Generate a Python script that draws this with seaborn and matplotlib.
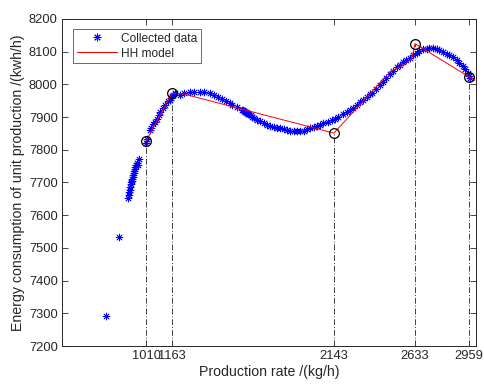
import matplotlib
matplotlib.use("Agg")
import matplotlib.pyplot as plt
import seaborn as sns
import pandas as pd
from matplotlib.lines import Line2D

# Collected data
data_x = [766, 844,
          899, 903, 906, 909, 912, 915, 918, 921, 924, 927, 930, 933, 936, 940, 944, 948, 952, 959, 965,
          1005, 1012, 1030, 1040, 1050, 1060, 1072, 1085, 1095, 1110, 1120, 1140, 1150, 1158, 1165, 1172, 1180,
          1213, 1240, 1273, 1300, 1333, 1360, 1394, 1420, 1440, 1466, 1490, 1514, 1530, 1560, 1587,
          1595, 1600, 1605, 1610, 1615, 1620, 1625, 1630, 1640, 1650, 1660, 1678, 1696, 1720, 1740, 1756,
          1780, 1800, 1816, 1840, 1860, 1877, 1900, 1920, 1937, 1960, 1980, 1998, 2020, 2040, 2058, 2080,
          2106, 2130, 2149, 2170, 2197, 2220, 2240, 2257, 2280, 2300, 2318, 2340, 2360, 2372, 2400, 2420,
          2438, 2460, 2480, 2500, 2523, 2540, 2560, 2580, 2601, 2620, 2644, 2660, 2680, 2704, 2720, 2740,
          2764, 2780, 2800, 2825, 2840, 2860, 2885, 2900, 2921, 2935, 2952, 2960, 2964]
data_y = [7292, 7533,
          7653, 7662, 7670, 7678, 7686, 7694, 7700, 7706, 7712, 7718, 7724, 7730, 7736, 7742, 7748, 7753, 7760, 7753, 7771,
          7822, 7832, 7860, 7868, 7878, 7885, 7895, 7905, 7915, 7928, 7936, 7948, 7952, 7958, 7963, 7968, 7973,
          7968, 7973, 7977, 7978, 7977, 7976, 7974, 7968, 7962, 7955, 7948, 7943, 7937, 7930, 7922,
          7920, 7918, 7916, 7915, 7913, 7911, 7910, 7908, 7905, 7901, 7898, 7891, 7887, 7881, 7877, 7874,
          7870, 7867, 7865, 7862, 7860, 7858, 7857, 7856, 7856, 7858, 7862, 7866, 7870, 7874, 7877, 7881,
          7886, 7891, 7895, 7901, 7909, 7916, 7922, 7928, 7937, 7945, 7952, 7961, 7969, 7974, 7987, 7998,
          8008, 8020, 8030, 8042, 8053, 8060, 8068, 8075, 8081, 8090, 8097, 8103, 8107, 8109, 8110, 8110,
          8108, 8104, 8100, 8094, 8090, 8083, 8075, 8066, 8055, 8046, 8035, 8025, 8020]

# HH model piecewise line
model_x = [1010, 1163, 1231, 2143, 2481, 2583, 2613, 2633, 2959, 2995]
model_y = [7828, 7972, 7971, 7851, 8038, 8065, 8078, 8124, 8023, 8012]

# Breakpoints (circles + vertical dash-dot lines)
break_x = [1010, 1163, 2143, 2633, 2959]
break_y = [7828, 7972, 7851, 8124, 8023]

x_ticks = [1010, 1163, 2143, 2633, 2959]
y_ticks = [7200, 7300, 7400, 7500, 7600, 7700, 7800, 7900, 8000, 8100, 8200]

sns.set_style("white")
plt.rcParams['font.family'] = ['Liberation Sans', 'DejaVu Sans']

fig = plt.figure(figsize=(4.84, 3.85), dpi=100)
ax = fig.add_axes([0.128, 0.101, 0.855, 0.850])

df = pd.DataFrame({"x": data_x, "y": data_y})
dm = pd.DataFrame({"x": model_x, "y": model_y})

ast = (8, 2, 0)
sns.scatterplot(data=df, x="x", y="y", ax=ax, marker=ast, s=24, color="#0000ff",
                linewidth=0.6, edgecolor="#0000ff", zorder=3, legend=False)
sns.lineplot(data=dm, x="x", y="y", ax=ax, sort=False, color="#ff0000", linewidth=0.7,
             zorder=4, legend=False)

ax.vlines(break_x, 7200, break_y, colors="#404040", linestyles=(0, (6, 2, 1, 2)), linewidth=0.7, zorder=2)
ax.plot(break_x, break_y, linestyle="none", marker="o", markersize=7, markerfacecolor="none",
        markeredgecolor="black", markeredgewidth=0.9, zorder=5)

ax.set_xlim(500, 3000)
ax.set_ylim(7200, 8200)
ax.set_xticks(x_ticks)
ax.set_xticklabels([str(v) for v in x_ticks])
ax.set_yticks(y_ticks)
ax.set_yticklabels([str(v) for v in y_ticks])
ax.tick_params(direction="in", length=4, width=0.6, labelsize=9.3, colors="#262626",
               top=True, right=True, bottom=True, left=True, pad=3)
for sp in ax.spines.values():
    sp.set_color("#262626")
    sp.set_linewidth(0.7)
    sp.set_visible(True)

ax.set_xlabel("Production rate /(kg/h)", fontsize=10.2, color="#262626", labelpad=2)
ax.set_ylabel("Energy consumption of unit production /(kwh/h)", fontsize=10.2, color="#262626", labelpad=3)

handles = [Line2D([], [], linestyle="none", marker=ast, markersize=5.5, color="#0000ff",
                  markeredgewidth=0.7),
           Line2D([], [], color="#ff0000", linewidth=0.8)]
leg = ax.legend(handles, ["Collected data", "HH model"], loc="upper left", fontsize=8.6,
                frameon=True, fancybox=False, edgecolor="#262626", handlelength=3.4,
                borderpad=0.3, labelspacing=0.25, handletextpad=0.3,
                bbox_to_anchor=(0.0266, 0.969), borderaxespad=0)
leg.get_frame().set_linewidth(0.6)

fig.savefig("out.png", dpi=100)
